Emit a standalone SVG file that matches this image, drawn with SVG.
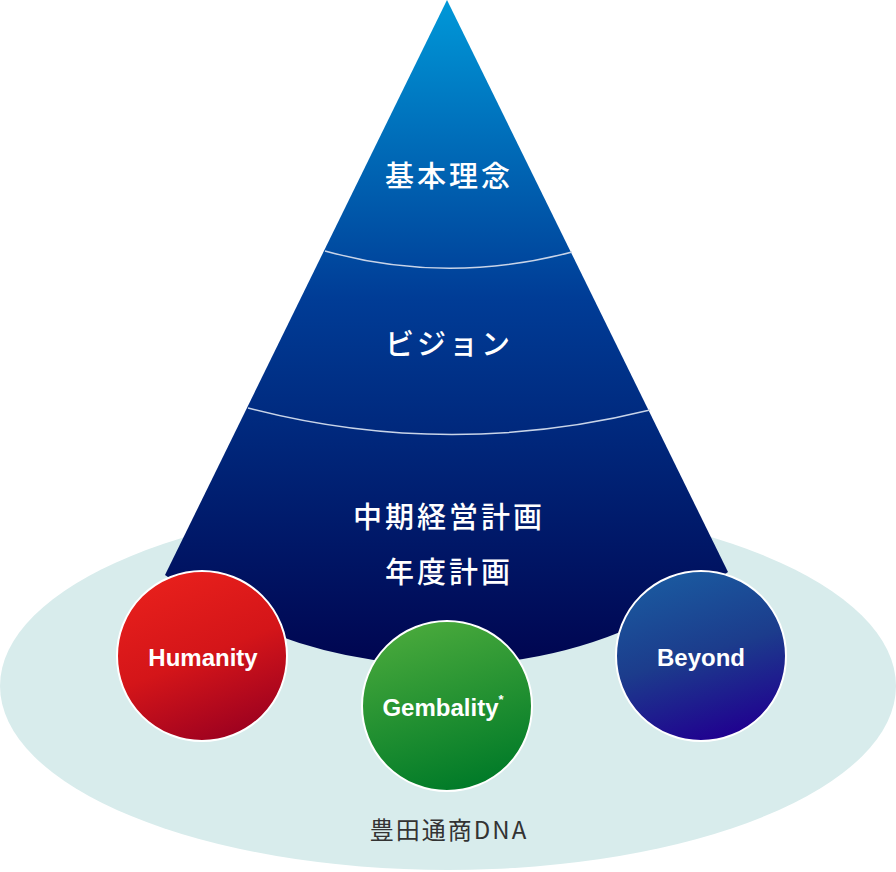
<svg xmlns="http://www.w3.org/2000/svg" width="896" height="872" viewBox="0 0 896 872">
<defs>
<linearGradient id="pg" x1="0" y1="0" x2="0" y2="1"><stop offset="0" stop-color="#0098d8"/><stop offset="0.45" stop-color="#003c96"/><stop offset="1" stop-color="#000550"/></linearGradient>
<linearGradient id="rg" x1="0.3" y1="0" x2="0.7" y2="1"><stop offset="0" stop-color="#e8201c"/><stop offset="0.5" stop-color="#d41519"/><stop offset="1" stop-color="#9a0020"/></linearGradient>
<linearGradient id="gg" x1="0.3" y1="0" x2="0.6" y2="1"><stop offset="0" stop-color="#4aaa3c"/><stop offset="1" stop-color="#007a28"/></linearGradient>
<linearGradient id="bg" x1="0.3" y1="0" x2="0.6" y2="1"><stop offset="0" stop-color="#1a5aa0"/><stop offset="0.5" stop-color="#1c3c8c"/><stop offset="1" stop-color="#200090"/></linearGradient>
<style>
.w{fill:#fff;font-family:"Noto Sans CJK JP","Noto Sans",sans-serif;font-size:29px;font-weight:500;text-anchor:middle;letter-spacing:3px}
.e{fill:#fff;font-family:"Liberation Sans",Arial,sans-serif;font-size:24px;font-weight:bold;text-anchor:middle}
.c{stroke:#fff;stroke-width:2}
.d{fill:none;stroke:#c8d4e8;stroke-width:1.5}
</style>
</defs>
<ellipse cx="448" cy="686" rx="448" ry="184" fill="#d8ecec"/>
<g id="pyramid">
<path d="M447,0 L728,572 Q600,665 447,665 Q290,665 165,575 Z" fill="url(#pg)"/>
<path class="d" d="M325,251 Q447,285 572,252"/>
<path class="d" d="M248,408 Q447,460 650,410"/>
<text class="w" x="449" y="187">基本理念</text>
<text class="w" x="449" y="355">ビジョン</text>
<text class="w" x="449" y="528">中期経営計画</text>
<text class="w" x="449" y="583">年度計画</text>
</g>
<g id="humanity"><circle class="c" cx="202" cy="656" r="85" fill="url(#rg)"/><text class="e" x="203" y="666">Humanity</text></g>
<g id="gembality"><circle class="c" cx="447" cy="706" r="85" fill="url(#gg)"/><text class="e" x="443" y="716">Gembality<tspan font-size="13" dy="-12">*</tspan></text></g>
<g id="beyond"><circle class="c" cx="701" cy="656" r="85" fill="url(#bg)"/><text class="e" x="701" y="666">Beyond</text></g>
<text x="449" y="839" style="fill:#333;font-family:'Noto Sans CJK JP','Noto Sans',sans-serif;font-size:24px;text-anchor:middle;letter-spacing:2px">豊田通商DNA</text>
<g id="connectors"/>
</svg>
